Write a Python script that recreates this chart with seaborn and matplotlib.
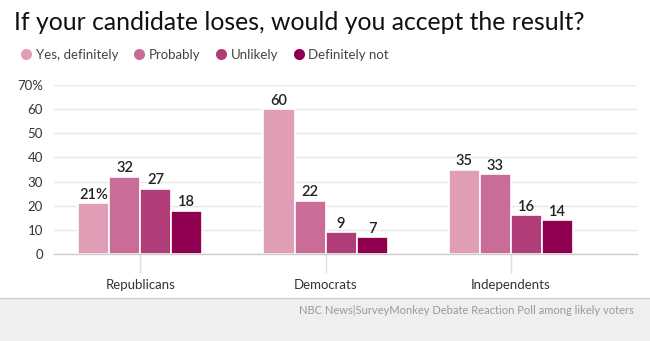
import matplotlib
matplotlib.use("Agg")
import matplotlib.pyplot as plt
import seaborn as sns
import pandas as pd
from matplotlib.patches import Rectangle
from matplotlib.lines import Line2D

groups = ["Republicans", "Democrats", "Independents"]
answers = ["Yes, definitely", "Probably", "Unlikely", "Definitely not"]
yes_definitely = [21, 60, 35]
probably = [32, 22, 33]
unlikely = [27, 9, 16]
definitely_not = [18, 7, 14]
yticks = [0, 10, 20, 30, 40, 50, 60, 70]
ytick_labels = ["0", "10", "20", "30", "40", "50", "60", "70%"]
colors = ["#e09db6", "#c96d98", "#b03c78", "#8f0050"]

rows = []
for ans, vals in zip(answers, [yes_definitely, probably, unlikely, definitely_not]):
    for g, v in zip(groups, vals):
        rows.append({"group": g, "answer": ans, "value": v})
df = pd.DataFrame(rows)

sns.set_theme(style="white")
plt.rcParams["font.family"] = ["Lato", "DejaVu Sans"]

fig = plt.figure(figsize=(6.5, 3.41), dpi=100)
fig.patch.set_facecolor("white")
# footer band
fig.patches.append(Rectangle((0, 0), 1, 43/341, transform=fig.transFigure,
                             facecolor="#efefef", edgecolor="none", zorder=0))
fig.lines.append(Line2D([0, 1], [43/341, 43/341], transform=fig.transFigure,
                        color="#d0d0d0", lw=1))

ax = fig.add_axes([54/650, 87/341, (637-54)/650, (254-85)/341])
sns.barplot(data=df, x="group", y="value", hue="answer", order=groups,
            hue_order=answers, palette=colors, width=0.67, ax=ax,
            edgecolor="white", linewidth=1.2, legend=False, saturation=1)
ax.set_xlim(-0.465, 2.68)
ax.set_ylim(0, 70)
ax.set_yticks(yticks)
ax.set_yticklabels(ytick_labels)
ax.grid(axis="y", color="#e8e8e8", lw=1)
ax.set_axisbelow(True)
for s in ["top", "right", "left"]:
    ax.spines[s].set_visible(False)
ax.spines["bottom"].set_color("#cccccc")
ax.spines["bottom"].set_linewidth(1)
ax.set_xlabel("")
ax.set_ylabel("")
ax.tick_params(axis="y", length=0, labelsize=9.5, labelcolor="#333333", pad=8)
ax.tick_params(axis="x", length=14, width=1, color="#dddddd", labelsize=9.5,
               labelcolor="#333333", pad=4, bottom=True)

for i, cont in enumerate(ax.containers):
    labels = []
    for j, bar in enumerate(cont):
        v = bar.get_height()
        labels.append(f"{int(v)}%" if (i == 0 and j == 0) else f"{int(v)}")
    ax.bar_label(cont, labels=labels, padding=1, fontsize=10.5,
                 color="#222222", fontweight="semibold")

fig.text(14/650, 1-22/341, "If your candidate loses, would you accept the result?",
         fontsize=17.8, color="#111111", va="center", ha="left")

handles = [Line2D([0], [0], marker="o", color="none", markerfacecolor=c,
                  markeredgecolor="none", markersize=8) for c in colors]
fig.legend(handles, answers, loc="center left", bbox_to_anchor=(8/650, 1-55/341),
           ncol=4, frameon=False, fontsize=9.5, labelcolor="#444444",
           handletextpad=0.2, columnspacing=1.1, handlelength=1.0)

fig.text(634/650, 1-311/341,
         "NBC News|SurveyMonkey Debate Reaction Poll among likely voters",
         fontsize=8, color="#999999", ha="right", va="center")

fig.savefig("out.png", dpi=100)
